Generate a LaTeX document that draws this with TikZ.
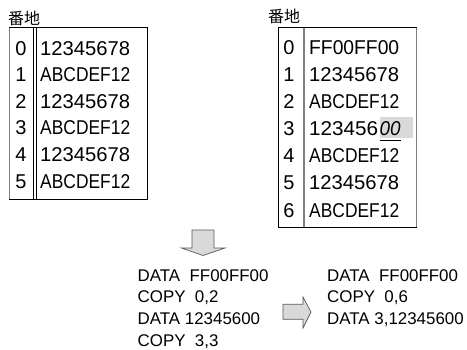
\documentclass[tikz,border=0pt]{standalone}
\usepackage{fontspec}
\setmainfont{Liberation Sans}
\newfontfamily\jpfont{Noto Sans CJK JP}
\usepackage{graphicx}
\definecolor{hlgray}{HTML}{D9D9D9}
\definecolor{bordergray}{HTML}{808080}
\definecolor{arrowfill}{HTML}{D9D9D9}
\definecolor{arrowline}{HTML}{595959}
\newcommand{\cellw}[2]{\resizebox{#1pt}{\height}{#2}}
\begin{document}
\begin{tikzpicture}[x=1pt,y=-1pt,
  tabtxt/.style={font=\fontsize{20}{20}\selectfont, inner sep=0pt, anchor=base west},
  idxtxt/.style={font=\fontsize{20}{20}\selectfont, inner sep=0pt, anchor=base},
  codetxt/.style={font=\fontsize{16.9}{16.9}\selectfont, inner sep=0pt, anchor=base west},
  jplabel/.style={font=\jpfont\fontsize{16}{16}\selectfont, inner sep=0pt, anchor=west},
  blockarrow/.style={fill=arrowfill, draw=arrowline, line width=0.7pt, line join=miter}]
\useasboundingbox (0,0) rectangle (467,349);

% ---------- left table ----------
\node[jplabel] (lbl1) at (8,18) {番地};
\draw[black, line width=0.8pt] (9,27.5) rectangle (147.5,199);
\draw[bordergray, line width=1.6pt] (9.3,27.5) -- (9.3,199);
\draw[black, line width=0.6pt] (33.3,27.5) -- (33.3,199);
\draw[black, line width=0.6pt] (36,27.5) -- (36,199);
\foreach \i/\t in {0/12345678,1/ABCDEF12,2/12345678,3/ABCDEF12,4/12345678,5/ABCDEF12}{
  \node[idxtxt] (li\i) at (21,48+26.6*\i+7.1) {\i};
  \node[tabtxt] (lv\i) at (40,48+26.6*\i+7.1) {\cellw{90}{\t}};
}

% ---------- right table ----------
\node[jplabel] (lbl2) at (268,16) {番地};
\fill[hlgray] (380,117) rectangle (413,137.5);
\draw[black, line width=0.7pt] (278,27.5) -- (417,27.5);
\draw[black, line width=0.7pt] (278,227) -- (417,227);
\draw[black, line width=0.7pt] (278,27.5) -- (278,227);
\draw[bordergray, line width=1pt] (416.8,27.5) -- (416.8,227);
\draw[bordergray, line width=2pt] (303.5,27.5) -- (303.5,227);
\foreach \i/\t in {0/FF00FF00,1/12345678,2/ABCDEF12,4/ABCDEF12,5/12345678,6/ABCDEF12}{
  \node[idxtxt] (ri\i) at (289,47+27.17*\i+7.1) {\i};
  \node[tabtxt] (rv\i) at (309,47+27.17*\i+7.1) {\cellw{90}{\t}};
}
\node[idxtxt] (ri3) at (289,47+27.17*3+7.1) {3};
\node[tabtxt] (rv3) at (309,47+27.17*3+7.1) {\cellw{69}{123456}};
\node[tabtxt] (rv3b) at (379.5,47+27.17*3+7.1) {\cellw{21}{\itshape 00}};
\draw[black, line width=1.5pt] (379.5,140.5) -- (401,140.5);

% ---------- down arrow ----------
\draw[blockarrow] (192,230) -- (214,230) -- (214,248) -- (225,248) -- (203,255.5)
  -- (181.5,248) -- (192,248) -- cycle;

% ---------- left code ----------
\node[codetxt] (c1) at (137.5,281) {DATA\ \ FF00FF00};
\node[codetxt] (c2) at (137.5,302.7) {COPY\ \ 0,2};
\node[codetxt] (c3) at (137.5,324.4) {DATA 12345600};
\node[codetxt] (c4) at (137.5,346.1) {COPY\ \ 3,3};

% ---------- right arrow ----------
\draw[blockarrow] (283,304.3) -- (303,304.3) -- (303,297) -- (311,312) -- (303,328)
  -- (303,319.3) -- (283,319.3) -- cycle;

% ---------- right code ----------
\node[codetxt] (d1) at (327,281) {DATA\ \ FF00FF00};
\node[codetxt] (d2) at (327,302.7) {COPY\ \ 0,6};
\node[codetxt] (d3) at (327,324.4) {DATA 3,12345600};
\end{tikzpicture}
\end{document}
